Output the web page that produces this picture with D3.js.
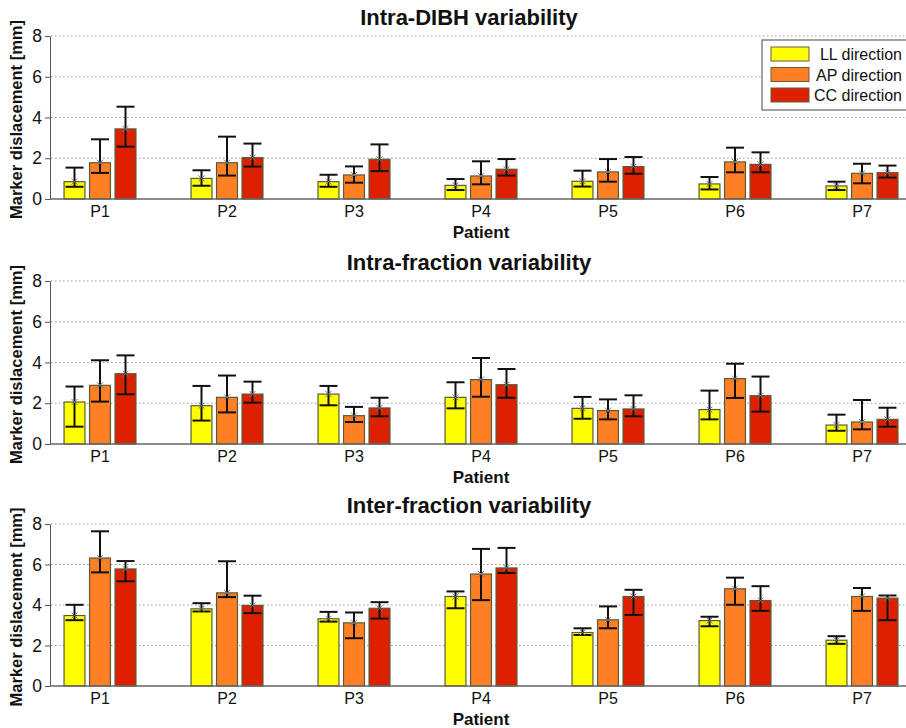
<!DOCTYPE html>
<html>
<head>
<meta charset="utf-8">
<script src="https://cdn.jsdelivr.net/npm/d3@7"></script>
<style>
  body { margin: 0; background: #fff; }
  svg { display: block; font-family: "Liberation Sans", Arial, sans-serif; }
</style>
</head>
<body>
<div id="chart"></div>
<script>
// patients and directions
let patients = ["P1", "P2", "P3", "P4", "P5", "P6", "P7"];
let directions = ["LL direction", "AP direction", "CC direction"];
let colors = ["#ffff00", "#ff8024", "#dd2100"];
let yTicks = [0, 2, 4, 6, 8];

// Intra-DIBH: mean, lower and upper whisker per direction (LL, AP, CC)
let dibhMean = [[0.85, 1.01, 0.85, 0.67, 0.87, 0.74, 0.64],
                [1.78, 1.78, 1.18, 1.13, 1.33, 1.82, 1.26],
                [3.44, 2.03, 1.95, 1.46, 1.59, 1.70, 1.29]];
let dibhLow = [[0.60, 0.65, 0.60, 0.44, 0.61, 0.47, 0.44],
               [1.28, 1.15, 0.80, 0.72, 0.85, 1.31, 0.77],
               [2.57, 1.59, 1.37, 1.15, 1.24, 1.31, 1.05]];
let dibhHigh = [[1.54, 1.41, 1.19, 0.98, 1.39, 1.08, 0.85],
                [2.93, 3.06, 1.60, 1.85, 1.96, 2.52, 1.73],
                [4.53, 2.72, 2.68, 1.96, 2.06, 2.29, 1.64]];

// Intra-fraction
let intraMean = [[2.06, 1.88, 2.45, 2.29, 1.75, 1.69, 0.93],
                 [2.88, 2.29, 1.39, 3.16, 1.64, 3.21, 1.08],
                 [3.45, 2.45, 1.77, 2.91, 1.72, 2.37, 1.21]];
let intraLow = [[0.85, 1.15, 1.90, 1.75, 1.24, 1.21, 0.65],
                [2.08, 1.55, 1.08, 2.32, 1.21, 2.26, 0.72],
                [2.44, 2.03, 1.36, 2.27, 1.36, 1.59, 0.85]];
let intraHigh = [[2.82, 2.85, 2.85, 3.03, 2.31, 2.62, 1.44],
                 [4.11, 3.36, 1.82, 4.22, 2.19, 3.94, 2.16],
                 [4.35, 3.06, 2.27, 3.68, 2.39, 3.31, 1.78]];

// Inter-fraction
let interMean = [[3.48, 3.81, 3.32, 4.42, 2.64, 3.23, 2.26],
                 [6.32, 4.60, 3.12, 5.53, 3.27, 4.80, 4.42],
                 [5.78, 3.98, 3.84, 5.83, 4.42, 4.22, 4.34]];
let interLow = [[3.25, 3.68, 3.18, 3.84, 2.52, 2.95, 2.08],
                [5.61, 4.39, 2.36, 4.24, 2.85, 4.01, 3.71],
                [5.17, 3.60, 3.33, 5.58, 3.51, 3.71, 3.25]];
let interHigh = [[4.01, 4.09, 3.66, 4.67, 2.85, 3.42, 2.46],
                 [7.64, 6.16, 3.63, 6.77, 3.93, 5.35, 4.84],
                 [6.17, 4.46, 4.14, 6.82, 4.75, 4.93, 4.47]];

let panels = [
    { title: "Intra-DIBH variability", mean: dibhMean, low: dibhLow, high: dibhHigh, top: 36, bottom: 199, legend: true },
    { title: "Intra-fraction variability", mean: intraMean, low: intraLow, high: intraHigh, top: 281, bottom: 444 },
    { title: "Inter-fraction variability", mean: interMean, low: interLow, high: interHigh, top: 524, bottom: 686 }
];

let width = 906, height = 728;
let left = 50, right = 906;

let svg = d3.select('#chart').append('svg')
    .attr('width', width)
    .attr('height', height)

let x = d3.scalePoint()
    .domain(patients)
    .range([100, 862])

let xs = d3.scaleBand()
    .domain(directions)
    .range([-38.25, 38.25])
    .paddingInner(0.18)
    .paddingOuter(0.09)

panels.forEach(function (p) {
    let g = svg.append('g')

    let y = d3.scaleLinear()
        .domain([0, 8])
        .range([p.bottom, p.top])

    // dotted grid
    g.selectAll('.grid')
        .data(yTicks.filter(function (t) { return t > 0 }))
        .enter()
        .append('line')
        .attr('x1', left + 1)
        .attr('x2', right)
        .attr('y1', function (d) { return y(d) })
        .attr('y2', function (d) { return y(d) })
        .attr('stroke', '#9a9a9a')
        .attr('stroke-width', 1)
        .attr('stroke-dasharray', '1.5,2.5')

    // y axis
    let yAxis = g.append('g')
        .attr('transform', 'translate(' + left + ',0)')
        .call(d3.axisLeft(y).tickValues(yTicks).tickSize(5).tickSizeOuter(0).tickPadding(3))
    yAxis.select('.domain').attr('stroke', '#555')
    yAxis.selectAll('.tick line').attr('stroke', '#555')
    yAxis.selectAll('text')
        .attr('font-size', 17.5)
        .attr('fill', '#111')

    // bars
    directions.forEach(function (dir, i) {
        let rows = patients.map(function (pt, j) {
            return { pt: pt, mean: p.mean[i][j], low: p.low[i][j], high: p.high[i][j] }
        })

        g.selectAll('.bar' + i)
            .data(rows)
            .enter()
            .append('rect')
            .attr('x', function (d) { return x(d.pt) + xs(dir) })
            .attr('y', function (d) { return y(d.mean) })
            .attr('width', xs.bandwidth())
            .attr('height', function (d) { return y(0) - y(d.mean) })
            .attr('fill', colors[i])
            .attr('stroke', '#5a5a3a')
            .attr('stroke-width', 1.2)

        let cx = function (d) { return x(d.pt) + xs(dir) + xs.bandwidth() / 2 }
        let eb = g.selectAll('.err' + i)
            .data(rows)
            .enter()
            .append('g')
            .attr('stroke', '#111')
            .attr('stroke-width', 2)

        eb.append('line')
            .attr('x1', cx).attr('x2', cx)
            .attr('y1', function (d) { return y(d.low) })
            .attr('y2', function (d) { return y(d.high) })
        eb.append('line')
            .attr('x1', function (d) { return cx(d) - 9 })
            .attr('x2', function (d) { return cx(d) + 9 })
            .attr('y1', function (d) { return y(d.high) })
            .attr('y2', function (d) { return y(d.high) })
        eb.append('line')
            .attr('x1', function (d) { return cx(d) - 9 })
            .attr('x2', function (d) { return cx(d) + 9 })
            .attr('y1', function (d) { return y(d.low) })
            .attr('y2', function (d) { return y(d.low) })
        // small x marker at the mean
        eb.append('path')
            .attr('d', function (d) {
                let px = cx(d), py = y(d.mean)
                return 'M' + (px - 3) + ',' + (py - 3) + 'L' + (px + 3) + ',' + (py + 3) +
                    'M' + (px - 3) + ',' + (py + 3) + 'L' + (px + 3) + ',' + (py - 3)
            })
            .attr('stroke', '#777')
            .attr('stroke-width', 1)
    })

    // x axis line
    g.append('line')
        .attr('x1', left).attr('x2', right)
        .attr('y1', y(0)).attr('y2', y(0))
        .attr('stroke', '#666')
        .attr('stroke-width', 1.5)

    // x tick labels
    g.selectAll('.xl')
        .data(patients)
        .enter()
        .append('text')
        .attr('x', function (d) { return x(d) })
        .attr('y', y(0) + 18)
        .attr('text-anchor', 'middle')
        .attr('font-size', 16)
        .attr('fill', '#111')
        .text(function (d) { return d })

    g.append('text')
        .attr('x', 481)
        .attr('y', y(0) + 39)
        .attr('text-anchor', 'middle')
        .attr('font-size', 17)
        .attr('font-weight', 'bold')
        .attr('fill', '#111')
        .text('Patient')

    g.append('text')
        .attr('x', 469)
        .attr('y', p.top - 11)
        .attr('text-anchor', 'middle')
        .attr('font-size', 22)
        .attr('font-weight', 'bold')
        .attr('fill', '#111')
        .text(p.title)

    g.append('text')
        .attr('transform', 'translate(22,' + ((p.top + p.bottom) / 2 + 2) + ') rotate(-90)')
        .attr('text-anchor', 'middle')
        .attr('font-size', 16.5)
        .attr('font-weight', 'bold')
        .attr('fill', '#111')
        .text('Marker dislacement [mm]')

    if (p.legend) {
        let lg = g.append('g').attr('transform', 'translate(762,40)')
        lg.append('rect')
            .attr('width', 146).attr('height', 70)
            .attr('fill', '#fff')
            .attr('stroke', '#666')
            .attr('stroke-width', 1.2)
        directions.forEach(function (dir, i) {
            lg.append('rect')
                .attr('x', 9).attr('y', 7 + i * 20.5)
                .attr('width', 38).attr('height', 14)
                .attr('fill', colors[i])
                .attr('stroke', '#6a5a3a')
            lg.append('text')
                .attr('x', 140).attr('y', 20 + i * 20.5)
                .attr('text-anchor', 'end')
                .attr('font-size', 16)
                .attr('fill', '#111')
                .text(dir)
        })
    }
})
</script>
</body>
</html>
